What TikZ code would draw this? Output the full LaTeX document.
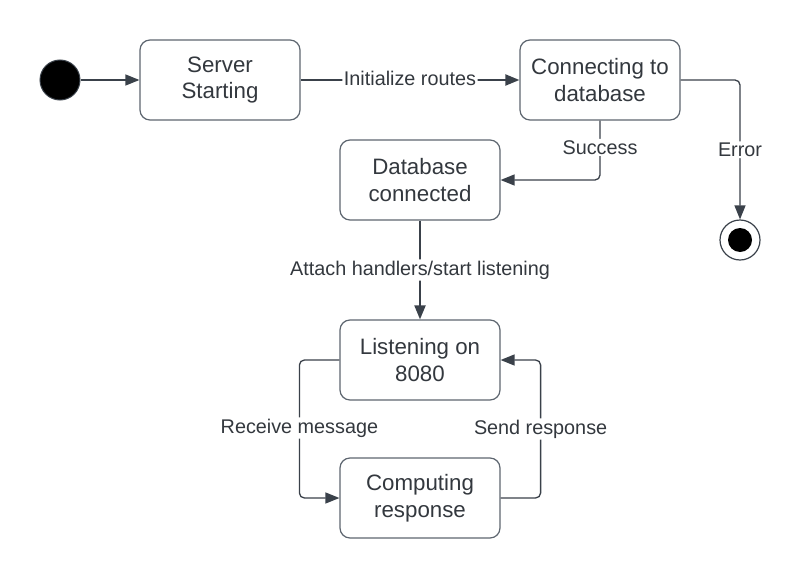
\documentclass[tikz,border=0pt]{standalone}
\usepackage{fontspec}
\setmainfont{Liberation Sans}
\usetikzlibrary{arrows.meta}
\definecolor{linegray}{RGB}{58,65,74}
\definecolor{boxgray}{RGB}{94,102,112}
\definecolor{textgray}{RGB}{51,56,62}
\tikzset{
	state/.style={draw=boxgray, line width=1.2pt, rounded corners=10pt, fill=white,
		minimum width=160pt, minimum height=80pt, align=center, text=textgray,
		font=\fontsize{22.3}{26.5}\selectfont},
	flow/.style={draw=linegray, line width=1.3pt, rounded corners=5pt,
		-{Triangle[length=14pt,width=11pt]}},
	thickflow/.style={flow, line width=2pt},
	edgelabel/.style={fill=white, inner sep=1.5pt, text=textgray,
		font=\fontsize{19.8}{23}\selectfont},
}
\begin{document}
\begin{tikzpicture}[x=1pt,y=-1pt]
			\useasboundingbox (0,0) rectangle (802,578);
			% states
			\node[state] (serverstart) at (220,80) {Server\\Starting};
			\node[state] (connectdb) at (600,80) {Connecting to\\database};
			\node[state] (dbconnected) at (420,180) {Database\\connected};
			\node[state] (listening) at (420,360) {Listening on\\8080};
			\node[state] (computing) at (420,498) {Computing\\response};
			
			% initial and final markers
			\node[circle, fill=black, draw=linegray, line width=1pt, minimum size=40pt, inner sep=0pt] (startnode) at (60,80) {};
			\node[circle, draw=linegray, line width=1.2pt, fill=white, minimum size=40pt, inner sep=0pt] (endnode) at (740,240) {};
			\node[circle, fill=black, minimum size=24pt, inner sep=0pt] (endcore) at (endnode) {};
			
			% transitions
			\draw[flow] (startnode) -- (serverstart);
			\draw[thickflow] (serverstart) -- node[edgelabel, yshift=2pt] {Initialize routes} (connectdb);
			\draw[flow] (connectdb.south) |- node[edgelabel, pos=0.25, yshift=3pt] {Success} (dbconnected.east);
			\draw[flow] (connectdb.east) -| node[edgelabel, pos=0.75] {Error} (endnode.north);
			\draw[thickflow] (dbconnected) -- node[edgelabel] {Attach handlers/start listening} (listening);
			\draw[flow] (listening.west) -- ++(-40,0) |- node[edgelabel, pos=0.25, yshift=1pt] {Receive message} (computing.west);
			\draw[flow] (computing.east) -- ++(40,0) |- node[edgelabel, pos=0.25] {Send response} (listening.east);
			
\end{tikzpicture}
\end{document}
